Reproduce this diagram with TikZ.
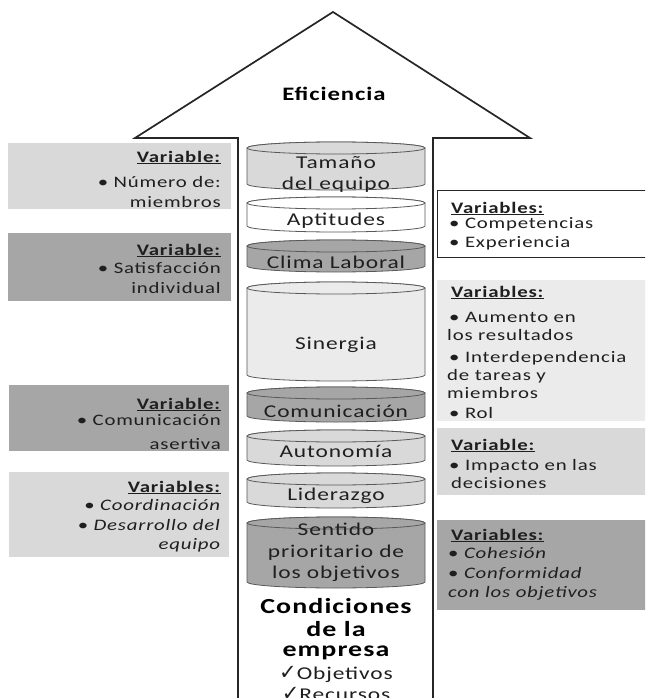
\documentclass[tikz,border=0pt]{standalone}
\usepackage{fontspec}
\setmainfont{Carlito}[FakeStretch=1.3,LetterSpace=5]
\newfontfamily\symfont{DejaVu Sans}
\definecolor{txt}{HTML}{1F1F1F}
\definecolor{dk}{HTML}{A6A6A6}
\definecolor{lt}{HTML}{D9D9D9}
\definecolor{vlt}{HTML}{EBEBEB}
\definecolor{cylline}{HTML}{595959}
\newcommand\cylshape[3]{%
  \path[draw=cylline, fill=#3, line width=0.8pt] (247,#1+6) -- (247,#2-6)
     arc[start angle=180,end angle=360,x radius=89pt,y radius=6pt] -- (425,#1+6)
     arc[start angle=0,end angle=180,x radius=89pt,y radius=6pt] -- cycle;
  \path[draw=cylline, fill=#3, line width=0.8pt] (336,#1+6) ellipse[x radius=89pt,y radius=6pt];}
\newcommand\hdr[1]{\underline{\textbf{#1}}}
\newcommand\chkmark{{\symfont\fontsize{21}{22}\selectfont ✓}}
\begin{document}
\begin{tikzpicture}[x=1pt,y=-1pt,
  boxtxt/.style={font=\fontsize{16}{18}\selectfont, text=txt, inner sep=0pt},
  ltxt/.style={boxtxt, anchor=base east},
  rtxt/.style={boxtxt, anchor=base west},
  ctxt/.style={font=\fontsize{18}{20}\selectfont, text=txt, inner sep=0pt, anchor=base},
  btxt/.style={font=\fontsize{21.5}{22}\selectfont\bfseries, text=black, inner sep=0pt, anchor=base},
  chk/.style={font=\fontsize{18}{18}\selectfont, text=txt, inner sep=0pt, anchor=base},
  arrowline/.style={line width=1.7pt, draw=black!85}]
\fill[white] (0,0) rectangle (645,698);
\useasboundingbox (0,0) rectangle (645,698);
\clip (0,0) rectangle (645,698);

% big arrow
\draw[arrowline, fill=white] (238,705) -- (238,138) -- (135,138) -- (333,12) -- (530,138) -- (433,138) -- (433,705);
\node[font=\fontsize{19}{20}\selectfont\bfseries, inner sep=0pt, anchor=base] (efi) at (334,101) {Eficiencia};

% left boxes
\fill[lt]  (8,143) rectangle (231,209);
\fill[dk]  (8,233) rectangle (231,301);
\fill[dk]  (9,385) rectangle (229,451);
\fill[lt]  (9,472) rectangle (229,557);

\node[ltxt] (l1a) at (221,162) {\hdr{Variable:}};
\node[ltxt] (l1b) at (221,187) {• Número de:};
\node[ltxt] (l1c) at (221,207) {miembros};

\node[ltxt] (l2a) at (221,255) {\hdr{Variable:}};
\node[ltxt] (l2b) at (221,273) {• Satisfacción};
\node[ltxt] (l2c) at (221,293) {individual};

\node[ltxt] (l3a) at (221,409) {\hdr{Variable:}};
\node[ltxt] (l3b) at (221,425) {• Comunicación};
\node[ltxt] (l3c) at (221,449) {asertiva};

\node[ltxt] (l4a) at (221,492) {\hdr{Variables:}};
\node[ltxt] (l4b) at (221,510) {• \textit{Coordinación}};
\node[ltxt] (l4c) at (221,530) {• \textit{Desarrollo del}};
\node[ltxt] (l4d) at (221,549) {\textit{equipo}};

% right boxes
\draw[fill=white, draw=black!85, line width=0.8pt] (437,190) rectangle (650,257);
\fill[vlt] (437,280) rectangle (650,421);
\fill[lt]  (437,428) rectangle (650,495);
\fill[dk]  (437,520) rectangle (650,610);

\node[rtxt] (r1a) at (451,213) {\hdr{Variables:}};
\node[rtxt] (r1b) at (449,228) {• Competencias};
\node[rtxt] (r1c) at (449,247) {• Experiencia};

\node[rtxt] (r2a) at (451,297) {\hdr{Variables:}};
\node[rtxt] (r2b) at (449,322) {• Aumento en};
\node[rtxt] (r2c) at (447,340) {los resultados};
\node[rtxt] (r2d) at (449,362) {• Interdependencia};
\node[rtxt] (r2e) at (447,380) {de tareas y};
\node[rtxt] (r2f) at (447,398) {miembros};
\node[rtxt] (r2g) at (449,418) {• Rol};

\node[rtxt] (r3a) at (451,450) {\hdr{Variable:}};
\node[rtxt] (r3b) at (449,470) {• Impacto en las};
\node[rtxt] (r3c) at (451,488) {decisiones};

\node[rtxt] (r4a) at (451,540) {\hdr{Variables:}};
\node[rtxt] (r4b) at (448,558) {• \textit{Cohesión}};
\node[rtxt] (r4c) at (448,578) {• \textit{Conformidad}};
\node[rtxt] (r4d) at (448,597) {\textit{con los objetivos}};

% cylinders
\cylshape{142}{190}{lt}
\node[ctxt] (tam1) at (336,168) {Tamaño};
\node[ctxt] (tam2) at (336,189) {del equipo};
\cylshape{197}{232}{white}
\node[ctxt] (apt) at (336,225) {Aptitudes};
\cylshape{240}{272}{dk}
\node[ctxt] (cli) at (336,268) {Clima Laboral};
\cylshape{282}{381}{vlt}
\node[ctxt] (sin) at (336,349) {Sinergia};
\cylshape{387}{422}{dk}
\node[ctxt] (com) at (336,417) {Comunicación};
\cylshape{430}{466}{lt}
\node[ctxt] (aut) at (336,457) {Autonomía};
\cylshape{473}{508}{lt}
\node[ctxt] (lid) at (336,500) {Liderazgo};
\cylshape{517}{588}{dk}
\node[ctxt] (sen1) at (336,535) {Sentido};
\node[ctxt] (sen2) at (336,557) {prioritario de};
\node[ctxt] (sen3) at (336,578) {los objetivos};

% bottom text
\node[btxt] (con1) at (336,613) {Condiciones};
\node[btxt] (con2) at (336,636) {de la};
\node[btxt] (con3) at (336,656) {empresa};
\node[chk] (obj) at (336,679) {\chkmark Objetivos};
\node[chk] (rec) at (336,700) {\chkmark Recursos};
\end{tikzpicture}
\end{document}
